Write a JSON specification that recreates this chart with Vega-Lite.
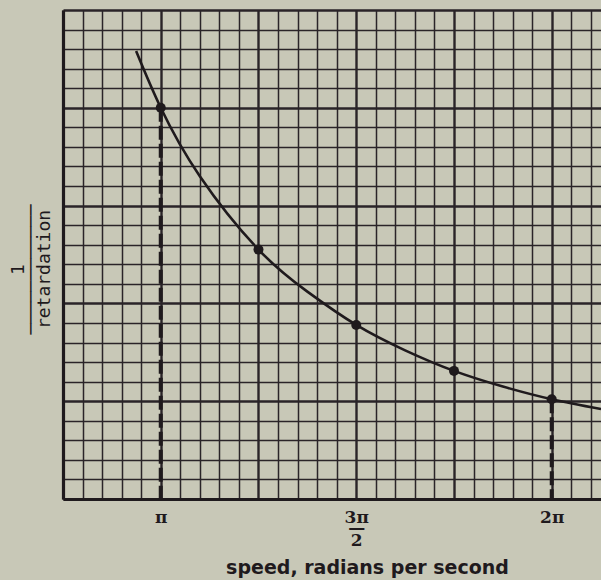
{
  "$schema": "https://vega.github.io/schema/vega-lite/v6.json",
  "width": 538,
  "height": 489,
  "autosize": {"type": "none"},
  "padding": {"left": 63, "top": 10, "right": 0, "bottom": 81},
  "background": "#c8c8b7",
  "config": {"view": {"stroke": null}},
  "datasets": {
    "curve": [
      {"speed": 0.937, "inv": 22.9},
      {"speed": 1.0, "inv": 20.0},
      {"speed": 1.1, "inv": 16.5},
      {"speed": 1.25, "inv": 12.75},
      {"speed": 1.375, "inv": 10.6},
      {"speed": 1.5, "inv": 8.9},
      {"speed": 1.625, "inv": 7.6},
      {"speed": 1.75, "inv": 6.55},
      {"speed": 1.875, "inv": 5.75},
      {"speed": 2.0, "inv": 5.1},
      {"speed": 2.126, "inv": 4.6}
    ],
    "obs": [
      {"speed": 1.0, "inv": 20.0},
      {"speed": 1.25, "inv": 12.75},
      {"speed": 1.5, "inv": 8.9},
      {"speed": 1.75, "inv": 6.55},
      {"speed": 2.0, "inv": 5.1}
    ]
  },
  "encoding": {
    "x": {
      "field": "speed",
      "type": "quantitative",
      "scale": {"domain": [0.75, 2.126], "nice": false, "zero": false},
      "axis": {
        "values": [0.75, 0.8, 0.85, 0.9, 0.95, 1, 1.05, 1.1, 1.15, 1.2, 1.25, 1.3, 1.35, 1.4, 1.45, 1.5, 1.55, 1.6, 1.65, 1.7, 1.75, 1.8, 1.85, 1.9, 1.95, 2, 2.05, 2.1],
        "grid": true,
        "gridColor": "#2a2428",
        "gridOpacity": 1,
        "gridWidth": {"condition": {"test": "abs(datum.value*4 - round(datum.value*4)) < 0.01", "value": 2.4}, "value": 1.5},
        "ticks": false,
        "domain": true,
        "domainColor": "#1f1a1d",
        "domainWidth": 3.2,
        "labelExpr": "datum.value == 1 ? 'π' : datum.value == 1.5 ? ['3π', '—', '2'] : datum.value == 2 ? '2π' : ''",
        "labelFont": "DejaVu Serif",
        "labelFontWeight": "bold",
        "labelFontSize": 17,
        "labelColor": "#1f1a1d",
        "labelPadding": 10,
        "labelLineHeight": 11.5,
        "labelOverlap": false,
        "labelFlush": false,
        "labelBaseline": "top",
        "title": "speed, radians per second",
        "titleFont": "DejaVu Sans",
        "titleFontWeight": "bold",
        "titleFontSize": 19,
        "titleColor": "#1f1a1d",
        "titleX": 304,
        "titleY": 74,
        "titleBaseline": "alphabetic",
        "titleAlign": "center"
      }
    },
    "y": {
      "field": "inv",
      "type": "quantitative",
      "scale": {"domain": [0, 25], "nice": false, "zero": false},
      "axis": {
        "values": [0, 1, 2, 3, 4, 5, 6, 7, 8, 9, 10, 11, 12, 13, 14, 15, 16, 17, 18, 19, 20, 21, 22, 23, 24, 25],
        "grid": true,
        "gridColor": "#2a2428",
        "gridOpacity": 1,
        "gridWidth": {"condition": {"test": "datum.value % 5 === 0", "value": 2.4}, "value": 1.5},
        "ticks": false,
        "labels": false,
        "domain": true,
        "domainColor": "#1f1a1d",
        "domainWidth": 3.2,
        "title": ["1", "────────────", "retardation"],
        "titleFont": "DejaVu Sans Mono",
        "titleFontSize": 18,
        "titleFontWeight": "normal",
        "titleColor": "#1f1a1d",
        "titleAngle": -90,
        "titleLineHeight": 13,
        "titleBaseline": "top",
        "titleAlign": "center",
        "titleX": -54,
        "titleY": 259
      }
    }
  },
  "layer": [
    {
      "data": {"name": "curve"},
      "mark": {"type": "line", "interpolate": "natural", "color": "#1f1a1d", "strokeWidth": 2.6, "clip": true}
    },
    {
      "data": {"name": "obs"},
      "transform": [{"filter": "datum.speed == 1 || datum.speed == 2"}],
      "mark": {"type": "rule", "strokeDash": [14, 4], "strokeWidth": 4, "color": "#1f1a1d"},
      "encoding": {"y2": {"datum": 0}}
    },
    {
      "data": {"name": "obs"},
      "mark": {"type": "point", "filled": true, "size": 100, "opacity": 1, "color": "#1f1a1d"}
    }
  ]
}
